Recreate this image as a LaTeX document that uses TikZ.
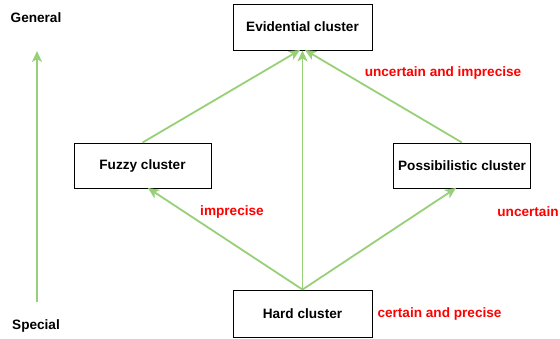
\documentclass[tikz,border=0pt]{standalone}
\usepackage{fontspec}
\setmainfont{Liberation Sans}
\usetikzlibrary{arrows.meta}
\definecolor{lgreen}{HTML}{97D077}
\definecolor{lred}{HTML}{FF0000}
\tikzset{
  box/.style={draw=black, line width=0.9pt, fill=white, minimum width=139pt, minimum height=46pt, font=\bfseries\fontsize{13.6}{16}\selectfont, inner sep=0pt},
  garrow/.style={draw=lgreen, line width=1.8pt, -{Stealth[length=11pt,width=10pt,inset=3pt]}},
  redlab/.style={text=lred, font=\bfseries\fontsize{13.6}{16}\selectfont},
  blab/.style={text=black, font=\bfseries\fontsize{13.6}{16}\selectfont}
}
\begin{document}
\begin{tikzpicture}[x=1pt,y=-1pt]
\useasboundingbox (0,0) rectangle (560,338);
\node[box] (evi) at (302.5,27) {Evidential cluster};
\node[box, minimum width=137pt, minimum height=45pt] (fuz) at (142.5,165.5) {Fuzzy cluster};
\node[box, minimum width=137pt, minimum height=45pt] (pos) at (462,165.5) {Possibilistic cluster};
\node[box, minimum height=47pt] (hard) at (302.5,313.5) {Hard cluster};
\draw[garrow] (hard.north) -- (evi.south);
\draw[garrow] (hard.north) -- (148,188);
\draw[garrow] (hard.north) -- (456,188);
\draw[garrow] (fuz.north) -- (300,50);
\draw[garrow] (pos.north) -- (305,50);
\node[blab] (gen) at (36,18) {General};
\node[blab] (spe) at (36,326) {Special};
\coordinate (s1) at (37,302);
\coordinate (s2) at (37,51);
\draw[garrow] (s1) -- (s2);
\node[redlab] (l1) at (443,73) {uncertain and imprecise};
\node[redlab] (l2) at (232,212) {imprecise};
\node[redlab] (l3) at (528,212) {uncertain};
\node[redlab] (l4) at (439.5,314) {certain and precise};
\end{tikzpicture}
\end{document}
